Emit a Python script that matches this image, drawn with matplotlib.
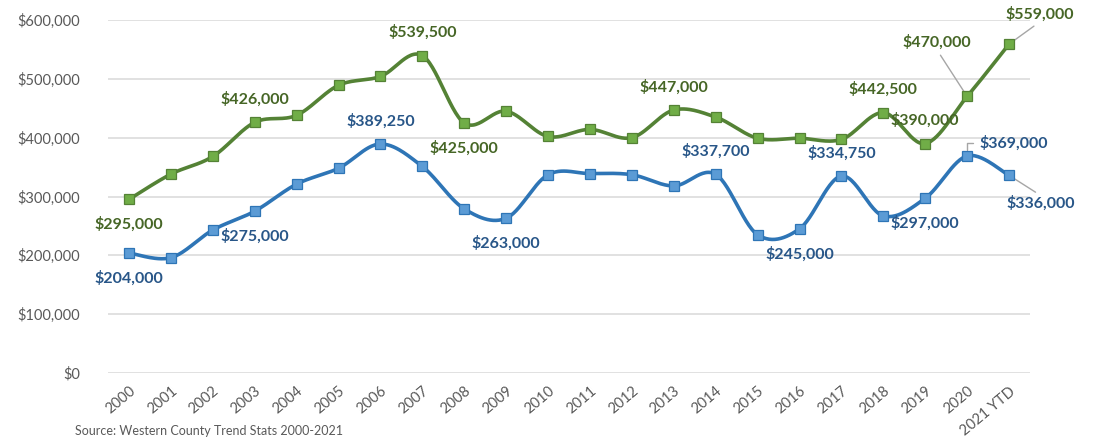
import numpy as np
import matplotlib
matplotlib.use("Agg")
import matplotlib.pyplot as plt

# Median prices per year
years = ["2000", "2001", "2002", "2003", "2004", "2005", "2006", "2007", "2008", "2009", "2010",
         "2011", "2012", "2013", "2014", "2015", "2016", "2017", "2018", "2019", "2020", "2021 YTD"]
green_vals = [295000, 338000, 368000, 426000, 438000, 489000, 504000, 539500, 425000, 445000, 402000,
              414000, 400000, 447000, 435000, 399000, 399000, 397000, 442500, 390000, 470000, 559000]
blue_vals = [204000, 196000, 243000, 275000, 321000, 348000, 389250, 351000, 279000, 263000, 337000,
             339000, 337000, 318000, 337700, 235000, 245000, 334750, 267000, 297000, 369000, 336000]

# labelled points: (index, position)
green_labels = [(0, "below"), (3, "above"), (7, "above"), (8, "below"), (13, "above"),
                (18, "above"), (19, "above")]
blue_labels = [(0, "below"), (3, "below"), (6, "above"), (9, "below"), (14, "above"),
               (16, "below"), (17, "above"), (19, "below")]

GREEN_LINE = "#548235"
GREEN_MARK = "#70AD47"
GREEN_TXT = "#466626"
BLUE_LINE = "#2E75B6"
BLUE_MARK = "#5B9BD5"
BLUE_TXT = "#285688"
LEADER = "#A6A6A6"


def smooth(y, n=30):
    # Catmull-Rom style smoothing like Excel's smoothed line
    x = np.arange(len(y), dtype=float)
    y = np.asarray(y, dtype=float)
    px = np.concatenate([[x[0]], x, [x[-1]]])
    py = np.concatenate([[y[0]], y, [y[-1]]])
    xs, ys = [], []
    t = np.linspace(0, 1, n)
    for i in range(len(y) - 1):
        p0 = np.array([px[i + 1], py[i + 1]])
        p3 = np.array([px[i + 2], py[i + 2]])
        c1 = p0 + (p3 - np.array([px[i], py[i]])) / 6
        c2 = p3 - (np.array([px[i + 3], py[i + 3]]) - p0) / 6
        b = ((1 - t) ** 3)[:, None] * p0 + (3 * (1 - t) ** 2 * t)[:, None] * c1 \
            + (3 * (1 - t) * t ** 2)[:, None] * c2 + (t ** 3)[:, None] * p3
        xs.extend(b[:, 0])
        ys.extend(b[:, 1])
    return np.array(xs), np.array(ys)


fig = plt.figure(figsize=(10.99, 4.38), dpi=100)
ax = fig.add_axes([108 / 1099, 1 - 373 / 438, (1030 - 108) / 1099, (373 - 20) / 438])

x = np.arange(len(years))
for vals, lc, mc in [(green_vals, GREEN_LINE, GREEN_MARK), (blue_vals, BLUE_LINE, BLUE_MARK)]:
    sx, sy = smooth(vals)
    ax.plot(sx, sy, color=lc, lw=2.6, solid_capstyle="round", zorder=3)
    ax.plot(x, vals, ls="none", marker="s", ms=7, mfc=mc, mec=lc, mew=0.9, zorder=4)

ax.set_xlim(-0.5, len(years) - 0.5)
ax.set_ylim(0, 600000)
ax.set_yticks(range(0, 600001, 100000))
ax.set_yticklabels(["$0" if v == 0 else "${:,}".format(v) for v in range(0, 600001, 100000)])
ax.set_xticks(x)
ax.set_xticklabels(years, rotation=40, ha="right", va="top", rotation_mode="anchor")
ax.grid(axis="y", color="#D9D9D9", lw=1.1)
ax.set_axisbelow(True)
for s in ax.spines.values():
    s.set_visible(False)
ax.tick_params(axis="y", length=0, pad=20, labelsize=10.5, labelcolor="#595959")
ax.tick_params(axis="x", length=0, pad=8, labelsize=10.5, labelcolor="#595959")
for lab in ax.get_xticklabels() + ax.get_yticklabels():
    lab.set_fontfamily("Lato")

lab_font = dict(fontfamily="Lato", fontweight="bold", fontsize=11.5)


def money(v):
    return "${:,}".format(v)


for vals, labels, col in [(green_vals, green_labels, GREEN_TXT), (blue_vals, blue_labels, BLUE_TXT)]:
    for i, pos in labels:
        dy = 23 if pos == "above" else -25
        ax.annotate(money(vals[i]), (i, vals[i]), xytext=(0, dy), textcoords="offset pixels",
                    ha="center", va="center", color=col, **lab_font)

# labels with leader lines
ax.annotate(money(green_vals[20]), (20, green_vals[20]), xytext=(-30, 54), textcoords="offset pixels",
            ha="center", va="center", color=GREEN_TXT, **lab_font,
            arrowprops=dict(arrowstyle="-", color=LEADER, lw=1, relpos=(0.5, 0), shrinkA=2, shrinkB=3))
ax.annotate(money(green_vals[21]), (21, green_vals[21]), xytext=(31, 30), textcoords="offset pixels",
            ha="center", va="center", color=GREEN_TXT, **lab_font,
            arrowprops=dict(arrowstyle="-", color=LEADER, lw=1, relpos=(0.5, 0), shrinkA=2, shrinkB=3))
ax.annotate(money(blue_vals[20]), (20, blue_vals[20]), xytext=(47, 13), textcoords="offset pixels",
            ha="center", va="center", color=BLUE_TXT, **lab_font,
            arrowprops=dict(arrowstyle="-", color=LEADER, lw=1, relpos=(0, 0.5), shrinkA=3, shrinkB=4,
                            connectionstyle="angle,angleA=0,angleB=90,rad=0"))
ax.annotate(money(blue_vals[21]), (21, blue_vals[21]), xytext=(32, -28), textcoords="offset pixels",
            ha="center", va="center", color=BLUE_TXT, **lab_font,
            arrowprops=dict(arrowstyle="-", color=LEADER, lw=1, relpos=(0.5, 1), shrinkA=1, shrinkB=3))

fig.text(75 / 1099, 1 / 438, "Source: Western County Trend Stats 2000-2021", ha="left", va="bottom",
         fontfamily="Lato", fontsize=9, color="#595959")

fig.savefig("out.png", dpi=100)
